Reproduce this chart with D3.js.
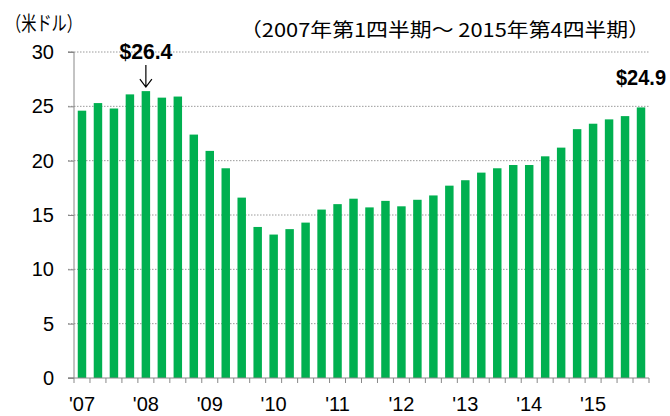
<!DOCTYPE html>
<html><head><meta charset="utf-8">
<script src="https://cdn.jsdelivr.net/npm/d3@7"></script>
<style>body{margin:0;background:#fff}svg{display:block}</style>
</head><body>
<svg id="c" width="670" height="416"></svg>
<script>
const quarters = d3.range(36).map(i => (2007 + Math.floor(i/4)) + "Q" + (i%4+1));
const values = [24.6,25.3,24.8,26.1,26.4,25.8,25.9,22.4,20.9,19.3,16.6,13.9,13.2,13.7,14.3,15.5,
  16.0,16.5,15.7,16.3,15.8,16.4,16.8,17.7,18.2,18.9,19.3,19.6,19.6,20.4,21.2,22.9,23.4,23.8,24.1,24.9];
const yTicks = [0,5,10,15,20,25,30];
const yearLabels = ["'07","'08","'09","'10","'11","'12","'13","'14","'15"];
const unitLabel = "（米ドル）";
const subtitle = "（2007年第1四半期～ 2015年第4四半期）";
const callouts = [{i:4, text:"$26.4", arrow:true},{i:35, text:"$24.9", arrow:false}];

const svg = d3.select("#c");
const L = 74, R = 649, T = 52, B = 378;
const x = d3.scaleBand().domain(quarters).range([L, R]).paddingInner(0.47).paddingOuter(0.235);
const y = d3.scaleLinear().domain([0,30]).range([B, T]);
const num = "'Liberation Sans', Arial, sans-serif";
const cjk = "'Noto Sans CJK JP', sans-serif";

// gridlines
svg.append("g").selectAll("line").data(yTicks.filter(d=>d>0)).join("line")
  .attr("x1", 68).attr("x2", R).attr("y1", d=>y(d)).attr("y2", d=>y(d))
  .attr("stroke", "#9a9a9a").attr("stroke-width", 1).attr("stroke-dasharray", "1.5,1.5");

// bars
svg.append("g").selectAll("rect").data(values).join("rect")
  .attr("x", (d,i)=>x(quarters[i])).attr("width", x.bandwidth())
  .attr("y", d=>y(d)).attr("height", d=>B - y(d))
  .attr("fill", "#00b050");

// y axis
const ya = svg.append("g").attr("transform", `translate(${L},0)`)
  .call(d3.axisLeft(y).tickValues(yTicks).tickSize(6).tickPadding(14));
ya.select(".domain").attr("stroke", "#888").attr("d", `M-6,${B}H0V${T}H-6`);
ya.selectAll(".tick line").attr("stroke", "#888");
ya.selectAll(".tick text").attr("font-family", num).attr("font-size", 20).attr("fill", "#000");

// x axis
const step = x.step();
const xa = svg.append("g").attr("transform", `translate(0,${B})`);
xa.append("line").attr("x1", 68).attr("x2", R).attr("stroke", "#888");
xa.selectAll("line.t").data(d3.range(37)).join("line").attr("class","t")
  .attr("x1", i => L + i*step).attr("x2", i => L + i*step).attr("y1", 0).attr("y2", 5)
  .attr("stroke", "#888");
xa.selectAll("text").data(yearLabels).join("text")
  .attr("x", (d,k)=> x(quarters[k*4]) + x.bandwidth()/2).attr("y", 33)
  .attr("text-anchor", "middle").attr("font-family", num).attr("font-size", 20)
  .text(d=>d);

// titles
svg.append("text").attr("x", 6).attr("y", 31).attr("font-family", cjk).attr("font-size", 20)
  .attr("textLength", 76).attr("lengthAdjust", "spacingAndGlyphs").text(unitLabel);
svg.append("text").attr("x", 240).attr("y", 37).attr("font-family", cjk).attr("font-size", 19)
  .attr("textLength", 410).attr("lengthAdjust", "spacingAndGlyphs").text(subtitle);

// callouts
callouts.forEach(c => {
  const cx = x(quarters[c.i]) + x.bandwidth()/2;
  const top = y(values[c.i]);
  if (c.arrow) {
    svg.append("text").attr("x", cx).attr("y", 59).attr("text-anchor", "middle")
      .attr("font-family", num).attr("font-weight", "bold").attr("font-size", 22)
      .attr("textLength", 53).attr("lengthAdjust", "spacingAndGlyphs").text(c.text);
    svg.append("path").attr("d", `M${cx},65V${top-4}M${cx-6},${top-12}L${cx},${top-4}L${cx+6},${top-12}`)
      .attr("fill", "none").attr("stroke", "#000").attr("stroke-width", 1.2);
  } else {
    svg.append("text").attr("x", 641).attr("y", 85).attr("text-anchor", "middle")
      .attr("font-family", num).attr("font-weight", "bold").attr("font-size", 22)
      .attr("textLength", 50).attr("lengthAdjust", "spacingAndGlyphs").text(c.text);
  }
});
</script>
</body></html>
